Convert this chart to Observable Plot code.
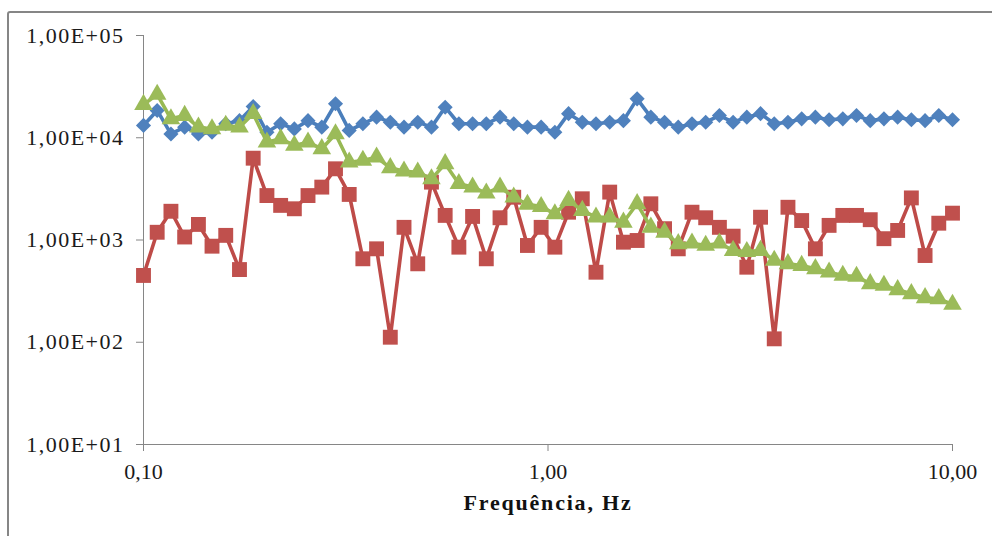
<!DOCTYPE html>
<html>
<head>
<meta charset="utf-8">
<script src="https://cdn.jsdelivr.net/npm/d3@7"></script>
<script src="https://cdn.jsdelivr.net/npm/@observablehq/plot@0.6"></script>
<style>
  html, body { margin: 0; padding: 0; background: #fff; overflow: hidden; }
  #wrap { position: relative; width: 992px; height: 536px; overflow: hidden; }
  #frame { position: absolute; left: 7px; top: 11px; width: 1100px; height: 700px;
           border: 2px solid #868686; border-radius: 3px; box-sizing: border-box; }
  #chart { position: absolute; left: 0; top: 0; }
  #chart g[aria-label="y-axis tick label"] text { letter-spacing: 1.5px; }
  #chart g[aria-label="text"] text { letter-spacing: 1.8px; }
</style>
</head>
<body>
<div id="wrap"><div id="frame"></div><div id="chart"></div></div>
<script>
// Frequency sweep, 0.1 to 10 Hz (Hz)
const freq = [
  0.1000, 0.1081, 0.1169, 0.1264, 0.1367, 0.1477, 0.1597, 0.1727, 0.1867, 0.2019,
  0.2183, 0.2360, 0.2551, 0.2759, 0.2983, 0.3225, 0.3486, 0.3769, 0.4075, 0.4406,
  0.4764, 0.5151, 0.5569, 0.6021, 0.6510, 0.7038, 0.7610, 0.8227, 0.8895, 0.9617,
  1.0398, 1.1242, 1.2155, 1.3141, 1.4208, 1.5362, 1.6609, 1.7958, 1.9415, 2.0991,
  2.2696, 2.4538, 2.6530, 2.8684, 3.1012, 3.3529, 3.6251, 3.9194, 4.2376, 4.5816,
  4.9535, 5.3555, 5.7904, 6.2604, 6.7687, 7.3182, 7.9120, 8.5543, 9.2488, 10.000
];

// Series 1 (blue diamonds)
const serie1 = [
  13200, 18500, 10900, 12700, 10900, 11300, 13700, 14700, 20200, 11300,
  13700, 12200, 14700, 12700, 21500, 11800, 13700, 15900, 14200, 12700,
  14200, 12700, 19900, 13700, 13700, 13700, 15900, 13700, 12700, 12700,
  11300, 17200, 14200, 13700, 14200, 14700, 24000, 15900, 14200, 12700,
  13700, 14200, 16500, 14200, 15900, 17200, 13700, 14200, 15300, 15900,
  15000, 15300, 16500, 14700, 15300, 15900, 15000, 14700, 16500, 15000
];

// Series 2 (red squares)
const serie2 = [
  450, 1190, 1910, 1070, 1420, 870, 1110, 514, 6310, 2720,
  2180, 2020, 2720, 3290, 4970, 2790, 655, 820, 112, 1330,
  585, 3680, 1740, 851, 1700, 655, 1650, 2620, 884, 1330,
  851, 1870, 2530, 484, 2940, 952, 989, 2260, 1290, 820,
  1870, 1650, 1330, 1090, 542, 1670, 108, 2090, 1550, 820,
  1390, 1740, 1740, 1580, 1030, 1240, 2580, 705, 1460, 1830
];

// Series 3 (green triangles)
const serie3 = [
  21100, 26500, 15300, 16500, 12700, 12200, 13200, 12700, 17200, 9050,
  9760, 8400, 9050, 7800, 10900, 5770, 5990, 6450, 5080, 4710,
  4600, 3960, 5560, 3550, 3290, 2870, 3290, 2620, 2230, 2120,
  1800, 2430, 1940, 1670, 1670, 1490, 2260, 1330, 1190, 918,
  931, 884, 931, 789, 770, 789, 631, 585, 563, 523,
  484, 450, 440, 373, 359, 326, 298, 272, 266, 234
];

// Axis ticks
const yTicks = [10, 100, 1000, 10000, 100000];
const xTicks = [0.1, 1, 10];
const xTitle = "Frequência, Hz";

const rows = (vals) => freq.map((f, i) => ({f, v: vals[i]}));
const s1 = rows(serie1), s2 = rows(serie2), s3 = rows(serie3);

const axisGray = "#868686";
const fmtY = d => "1,00E+" + String(Math.round(Math.log10(d))).padStart(2, "0");
const fmtX = d => d.toFixed(2).replace(".", ",");

const chart = Plot.plot({
  width: 992,
  height: 536,
  marginLeft: 143,
  marginRight: 40,
  marginTop: 35,
  marginBottom: 92,
  style: {fontFamily: "'Liberation Serif', 'Times New Roman', serif", fontSize: "22px", background: "transparent", overflow: "visible"},
  x: {type: "log", domain: [0.1, 10]},
  y: {type: "log", domain: [10, 100000]},
  marks: [
    Plot.ruleX([0.1], {stroke: axisGray, strokeWidth: 1}),
    Plot.ruleY([10], {stroke: axisGray, strokeWidth: 1}),
    Plot.axisY({ticks: yTicks, tickFormat: fmtY, tickSize: 7, tickPadding: 12, stroke: axisGray, fill: "#1a1a1a", label: null}),
    Plot.axisX({ticks: xTicks, tickFormat: fmtX, tickSize: 7, tickPadding: 12, stroke: axisGray, fill: "#1a1a1a", label: null}),
    Plot.text([xTitle], {frameAnchor: "bottom", dy: 58, text: d => d, fontWeight: "bold", fontSize: 22, fill: "#111", lineAnchor: "middle"}),

    Plot.line(s1, {x: "f", y: "v", stroke: "#4A7EBB", strokeWidth: 3.6, strokeLinejoin: "round"}),
    Plot.dot(s1, {x: "f", y: "v", symbol: d3.symbolDiamond2, r: 6.8, fill: "#4F81BD", stroke: "none"}),

    Plot.line(s2, {x: "f", y: "v", stroke: "#BE4B48", strokeWidth: 3.6, strokeLinejoin: "round"}),
    Plot.dot(s2, {x: "f", y: "v", symbol: "square", r: 8.4, fill: "#C0504D", stroke: "none"}),

    Plot.line(s3, {x: "f", y: "v", stroke: "#98B954", strokeWidth: 3.6, strokeLinejoin: "round"}),
    Plot.dot(s3, {x: "f", y: "v", symbol: "triangle", r: 6.9, fill: "#9BBB59", stroke: "none"})
  ]
});
document.getElementById("chart").appendChild(chart);
</script>
</body>
</html>
